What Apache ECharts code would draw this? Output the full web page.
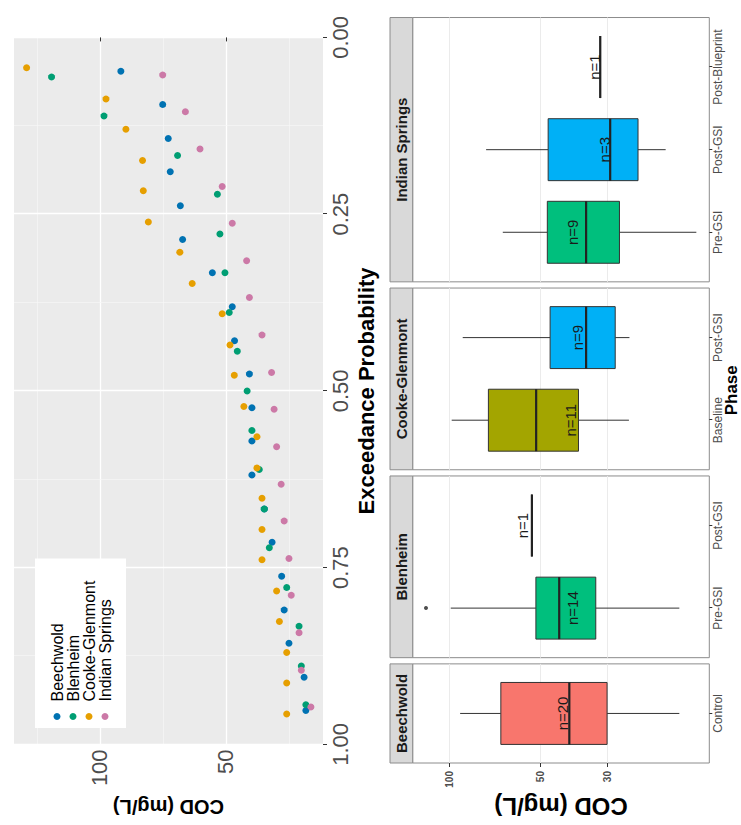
<!DOCTYPE html>
<html><head><meta charset="utf-8">
<script src="https://cdn.jsdelivr.net/npm/echarts@6/dist/echarts.min.js"></script>
<style>
html,body{margin:0;padding:0;background:#fff;overflow:hidden;width:741px;height:825px;}
#wrap{position:absolute;left:0;top:0;width:812px;height:741px;transform-origin:0 0;transform:translateY(825px) rotate(-90deg);}
</style></head><body><div id="wrap"></div>
<script>
// ---------- data ----------
const siteNames = ['Beechwold', 'Blenheim', 'Cooke-Glenmont', 'Indian Springs'];

const beechwoldCOD  = [91.7, 75.1, 72.9, 72.1, 68.1, 67.2, 55.4, 47.5, 46.6, 40.7, 39.7, 39.7, 39.7, 34.8, 31.7, 27.9, 26.9, 25.0, 19.0, 18.3];
const beechwoldProb = [0.048, 0.095, 0.143, 0.190, 0.238, 0.286, 0.333, 0.381, 0.429, 0.476, 0.524, 0.571, 0.619, 0.667, 0.714, 0.762, 0.810, 0.857, 0.905, 0.952];
const blenheimCOD   = [119.2, 98.4, 69.2, 53.4, 52.4, 50.4, 48.7, 45.5, 41.6, 39.7, 36.8, 34.8, 32.8, 25.9, 21.0, 20.1, 18.3];
const blenheimProb  = [0.056, 0.111, 0.167, 0.222, 0.278, 0.333, 0.389, 0.444, 0.500, 0.556, 0.611, 0.667, 0.722, 0.778, 0.833, 0.889, 0.944];
const cookeCOD      = [129.1, 97.6, 89.7, 83.1, 82.8, 80.8, 68.3, 63.4, 51.5, 48.4, 46.7, 42.9, 37.7, 37.7, 35.7, 35.7, 35.7, 29.9, 28.8, 25.9, 25.9, 25.9];
const cookeProb     = [0.043, 0.087, 0.130, 0.174, 0.217, 0.261, 0.304, 0.348, 0.391, 0.435, 0.478, 0.522, 0.565, 0.609, 0.652, 0.696, 0.739, 0.783, 0.826, 0.870, 0.913, 0.957];
const indianCOD     = [75.1, 66.1, 60.3, 51.5, 47.5, 41.8, 40.7, 35.7, 31.9, 30.9, 29.9, 28.1, 26.9, 25.0, 24.1, 21.0, 20.1, 16.3];
const indianProb    = [0.053, 0.105, 0.158, 0.211, 0.263, 0.316, 0.368, 0.421, 0.474, 0.526, 0.579, 0.632, 0.684, 0.737, 0.789, 0.842, 0.895, 0.947];

const probTicks = [0, 0.25, 0.5, 0.75, 1];
const probMinor = [0.125, 0.375, 0.625, 0.875];
const scatterCodTicks = [50, 100];
const scatterCodMinor = [25, 75, 125];

// box plots (one entry per box)
const boxSite   = [0, 1, 1, 2, 2, 3, 3, 3];
const boxPhase  = ['Control', 'Pre-GSI', 'Post-GSI', 'Baseline', 'Post-GSI', 'Pre-GSI', 'Post-GSI', 'Post-Blueprint'];
const boxMin    = [17.3, 17.3, 53.2, 25.4, 25.3, 15.2, 19.2, 31.6];
const boxQ1     = [30.0, 32.7, 53.2, 37.3, 28.2, 27.3, 23.7, 31.6];
const boxMedian = [40.0, 43.2, 53.2, 51.5, 35.2, 35.2, 29.3, 31.6];
const boxQ3     = [67.4, 51.6, 53.2, 74.1, 46.3, 47.3, 47.0, 31.6];
const boxMax    = [91.9, 98.7, 53.2, 98.0, 90.1, 66.4, 75.4, 31.6];
const boxN      = [20, 14, 1, 11, 9, 9, 3, 1];
const boxLabelAt = [42.1, 39.0, 57.1, 39.5, 37.6, 39.0, 30.5, 33.1];
const outlierSite = [1];
const outlierPhase = ['Pre-GSI'];
const outlierCOD = [119.2];
const boxCodTicks = [30, 50, 100];

// ---------- styles / layout ----------
const FONT = '"Liberation Sans", Arial, Helvetica, sans-serif';
const siteColors = ['#0072B2', '#009E73', '#E69F00', '#CC79A7'];
const phaseColors = {'Control': '#F8766D', 'Baseline': '#A3A500', 'Pre-GSI': '#00BF7D', 'Post-GSI': '#00B0F6', 'Post-Blueprint': '#E76BF3'};
const SC = {left: 77, top: 14, width: 726, height: 309};
const SC_MIN = 11.5, SC_MAX = 134.1;
const BX0 = 62, UNIT = 82.6, GAP = 6.2, PTOP = 412.7, PH = 296.6, STRIP_TOP = 390, STRIP_H = 22.7;
const BOX_MIN = 13.77, BOX_MAX = 131.9;

const chart = echarts.init(document.getElementById('wrap'), null, {renderer: 'svg'});

const scatterSets = [[beechwoldProb, beechwoldCOD], [blenheimProb, blenheimCOD], [cookeProb, cookeCOD], [indianProb, indianCOD]];

const grids = [{left: SC.left, top: SC.top, width: SC.width, height: SC.height, show: true, backgroundColor: '#EBEBEB', borderWidth: 0}];
const xAxes = [{
  gridIndex: 0, type: 'value', min: 0, max: 1, inverse: true,
  axisLine: {show: false},
  axisTick: {show: true, length: 4, lineStyle: {color: '#333'}, customValues: probTicks},
  axisLabel: {fontSize: 22, fontFamily: FONT, color: '#4D4D4D', margin: 6, customValues: probTicks, formatter: v => v.toFixed(2)},
  splitLine: {show: true, lineStyle: {color: '#FFFFFF', width: 1.3}},
  name: 'Exceedance Probability', nameLocation: 'middle', nameGap: 32,
  nameTextStyle: {fontSize: 22, fontWeight: 'bold', fontFamily: FONT, color: '#000'}
}, {
  gridIndex: 0, type: 'value', min: 0, max: 1, inverse: true,
  axisLine: {show: false}, axisLabel: {show: false},
  axisTick: {show: false, customValues: probMinor},
  splitLine: {show: true, lineStyle: {color: '#F6F6F6', width: 0.7}}
}];
const yAxes = [{
  gridIndex: 0, type: 'value', min: SC_MIN, max: SC_MAX,
  axisLine: {show: false},
  axisTick: {show: true, length: 4, lineStyle: {color: '#333'}, customValues: scatterCodTicks},
  axisLabel: {fontSize: 22, fontFamily: FONT, color: '#4D4D4D', margin: 5, customValues: scatterCodTicks},
  splitLine: {show: true, lineStyle: {color: '#FFFFFF', width: 1.3}},
  name: 'COD (mg/L)', nameLocation: 'middle', nameGap: 48, nameRotate: 90,
  nameTextStyle: {fontSize: 20, fontWeight: 'bold', fontFamily: FONT, color: '#000'}
}, {
  gridIndex: 0, type: 'value', min: SC_MIN, max: SC_MAX, position: 'left',
  axisLine: {show: false}, axisLabel: {show: false},
  axisTick: {show: false, customValues: scatterCodMinor},
  splitLine: {show: true, lineStyle: {color: '#F6F6F6', width: 0.7}}
}];

const series = siteNames.map((name, i) => ({
  type: 'scatter', name: name, xAxisIndex: 0, yAxisIndex: 0,
  symbol: 'circle', symbolSize: 7, z: 3,
  itemStyle: {color: siteColors[i], opacity: 1},
  data: scatterSets[i][0].map((p, k) => [p, scatterSets[i][1][k]])
}));

const graphics = [];
let left = BX0;
siteNames.forEach((site, s) => {
  const idx = boxSite.map((v, k) => v === s ? k : -1).filter(k => k >= 0);
  const cats = idx.map(k => boxPhase[k]);
  const nCat = cats.length;
  const fw = (nCat + 0.2) * UNIT;
  // frame grid
  const fg = grids.length;
  grids.push({left: left, top: PTOP, width: fw, height: PH, show: true, backgroundColor: '#FFFFFF', borderColor: '#8C8C8C', borderWidth: 1});
  xAxes.push({gridIndex: fg, type: 'value', min: 0, max: 1, show: false});
  yAxes.push({
    gridIndex: fg, type: 'log', min: BOX_MIN, max: BOX_MAX,
    axisLine: {show: false},
    axisTick: {show: s === 0, length: 4, lineStyle: {color: '#333'}, customValues: boxCodTicks},
    axisLabel: {show: s === 0, fontSize: 10, fontWeight: 'bold', fontFamily: FONT, color: '#4D4D4D', margin: 8, customValues: boxCodTicks},
    splitLine: {show: true, lineStyle: {color: '#EBEBEB', width: 1}},
    name: s === 0 ? 'COD (mg/L)' : '', nameLocation: 'middle', nameGap: 31, nameRotate: 90,
    nameTextStyle: {fontSize: 24, fontWeight: 'bold', fontFamily: FONT, color: '#000'}
  });
  // data grid
  const dg = grids.length;
  grids.push({left: left + 0.1 * UNIT, top: PTOP, width: nCat * UNIT, height: PH, show: false});
  xAxes.push({
    gridIndex: dg, type: 'category', data: cats,
    axisLine: {show: false},
    axisTick: {show: true, alignWithLabel: true, length: 3, lineStyle: {color: '#333'}},
    axisLabel: {fontSize: 12, fontFamily: FONT, color: '#4D4D4D', margin: 3, interval: 0},
    splitLine: {show: false}
  });
  yAxes.push({gridIndex: dg, type: 'log', min: BOX_MIN, max: BOX_MAX, show: false});
  const dxi = xAxes.length - 1, dyi = yAxes.length - 1;
  series.push({
    type: 'custom', xAxisIndex: dxi, yAxisIndex: dyi, clip: false, z: 4,
    encode: {x: 0, y: [1, 2, 3, 4, 5]},
    data: idx.map((k, j) => ({
      value: [j, boxMin[k], boxQ1[k], boxMedian[k], boxQ3[k], boxMax[k], boxLabelAt[k], boxN[k]],
      itemStyle: {color: phaseColors[boxPhase[k]]}
    })),
    renderItem: function (params, api) {
      const j = api.value(0);
      const band = api.size([1, 1], [j, 50])[0];
      const bw = band * 0.75;
      const pMin = api.coord([j, api.value(1)]);
      const pQ1 = api.coord([j, api.value(2)]);
      const pMed = api.coord([j, api.value(3)]);
      const pQ3 = api.coord([j, api.value(4)]);
      const pMax = api.coord([j, api.value(5)]);
      const pLab = api.coord([j, api.value(6)]);
      const cx = pMed[0];
      const stroke = '#333333';
      return {type: 'group', children: [
        {type: 'line', shape: {x1: cx, y1: pMax[1], x2: cx, y2: pQ3[1]}, style: {stroke: stroke, lineWidth: 1}},
        {type: 'line', shape: {x1: cx, y1: pQ1[1], x2: cx, y2: pMin[1]}, style: {stroke: stroke, lineWidth: 1}},
        {type: 'rect', shape: {x: cx - bw / 2, y: pQ3[1], width: bw, height: pQ1[1] - pQ3[1]}, style: {fill: api.visual('color'), stroke: stroke, lineWidth: 1}},
        {type: 'line', shape: {x1: cx - bw / 2, y1: pMed[1], x2: cx + bw / 2, y2: pMed[1]}, style: {stroke: '#222222', lineWidth: 2.2}},
        {type: 'text', x: cx, y: pLab[1], style: {text: 'n=' + api.value(7), align: 'center', verticalAlign: 'middle', font: '15px ' + FONT, fill: '#1A1A1A'}}
      ]};
    }
  });
  // outliers
  const outs = outlierSite.map((v, k) => v === s ? k : -1).filter(k => k >= 0);
  if (outs.length) {
    series.push({
      type: 'scatter', xAxisIndex: dxi, yAxisIndex: dyi, symbol: 'circle', symbolSize: 4, z: 5,
      itemStyle: {color: '#222222'},
      data: outs.map(k => [outlierPhase[k], outlierCOD[k]])
    });
  }
  // strip
  graphics.push({type: 'rect', shape: {x: left, y: STRIP_TOP, width: fw, height: STRIP_H}, style: {fill: '#D9D9D9', stroke: '#8C8C8C', lineWidth: 1}});
  graphics.push({type: 'text', x: left + fw / 2, y: STRIP_TOP + STRIP_H / 2 + 0.5, style: {text: site, align: 'center', verticalAlign: 'middle', font: 'bold 15px ' + FONT, fill: '#1A1A1A'}});
  left += fw + GAP;
});
const boxRight = left - GAP;
graphics.push({type: 'text', x: (BX0 + boxRight) / 2, y: 723, style: {text: 'Phase', align: 'center', verticalAlign: 'top', font: 'bold 17px ' + FONT, fill: '#000'}});

chart.setOption({
  backgroundColor: '#FFFFFF',
  animation: false,
  textStyle: {fontFamily: FONT},
  grid: grids,
  xAxis: xAxes,
  yAxis: yAxes,
  legend: {
    data: siteNames, orient: 'vertical', left: 97, top: 35, icon: 'circle',
    backgroundColor: '#FFFFFF', padding: [14, 22, 13, 8],
    itemWidth: 20, itemHeight: 7, itemGap: 0, selectedMode: false,
    textStyle: {fontSize: 16, lineHeight: 15, color: '#000', fontFamily: FONT}
  },
  graphic: graphics,
  series: series
});
</script></body></html>
